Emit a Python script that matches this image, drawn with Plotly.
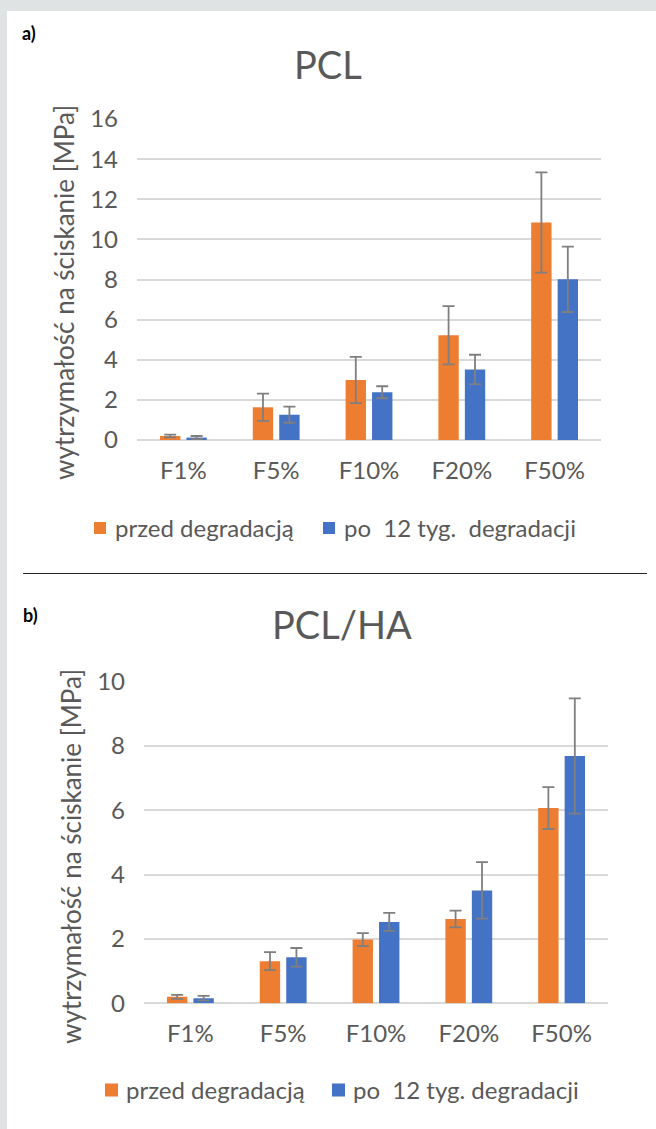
import plotly.graph_objects as go

W, H = 656, 1129

categories = ["F1%", "F5%", "F10%", "F20%", "F50%"]
series_names_a = ["przed degradacją", "po\u00a0 12 tyg.\u00a0 degradacji"]
series_names_b = ["przed degradacją", "po\u00a0 12 tyg. degradacji"]

# Chart a) PCL
pcl_before = [0.20, 1.63, 2.99, 5.22, 10.84]
pcl_before_err = [0.07, 0.68, 1.15, 1.45, 2.50]
pcl_after = [0.12, 1.26, 2.38, 3.52, 8.01]
pcl_after_err = [0.08, 0.40, 0.30, 0.73, 1.63]

# Chart b) PCL/HA
pclha_before = [0.20, 1.31, 1.98, 2.62, 6.07]
pclha_before_err = [0.06, 0.28, 0.20, 0.26, 0.65]
pclha_after = [0.16, 1.43, 2.53, 3.51, 7.69]
pclha_after_err = [0.07, 0.29, 0.28, 0.88, 1.79]

y_ticks_a = [0, 2, 4, 6, 8, 10, 12, 14, 16]
y_ticks_b = [0, 2, 4, 6, 8, 10]

ORANGE = "#ED7D31"
BLUE = "#4472C4"
ERR = "#7f7f7f"
TXT = "#595959"
GRID = "#d9d9d9"
FONT = "Lato"
TICK_SIZE = 24
LEG_SIZE = 24


def px(x):
    return x / W


def py(y):
    return 1 - y / H


def err(arr):
    return dict(type="data", array=arr, color=ERR, thickness=1.8, width=6)


fig = go.Figure()
fig.add_trace(go.Bar(x=categories, y=pcl_before, error_y=err(pcl_before_err),
                     marker_color=ORANGE, name=series_names_a[0],
                     xaxis="x", yaxis="y"))
fig.add_trace(go.Bar(x=categories, y=pcl_after, error_y=err(pcl_after_err),
                     marker_color=BLUE, name=series_names_a[1],
                     xaxis="x", yaxis="y"))
fig.add_trace(go.Bar(x=categories, y=pclha_before, error_y=err(pclha_before_err),
                     marker_color=ORANGE, name=series_names_b[0],
                     xaxis="x2", yaxis="y2"))
fig.add_trace(go.Bar(x=categories, y=pclha_after, error_y=err(pclha_after_err),
                     marker_color=BLUE, name=series_names_b[1],
                     xaxis="x2", yaxis="y2"))

xcommon = dict(showgrid=False, zeroline=False, showline=False, ticks="",
               tickfont=dict(family=FONT, size=TICK_SIZE, color=TXT), ticklabelstandoff=14,
               fixedrange=True, automargin=False)
ycommon = dict(showgrid=True, gridcolor=GRID, gridwidth=1.5, zeroline=True,
               zerolinecolor=GRID, zerolinewidth=1.5, showline=False, ticks="",
               tickfont=dict(family=FONT, size=TICK_SIZE, color=TXT), ticklabelstandoff=18,
               fixedrange=True, automargin=False)

# manual legends (square + text)
legend_items = [
    # (square x0, square y-center, text x, text, colour, size)
    (94, 528, 113, series_names_a[0], ORANGE, 12),
    (323, 528, 342, series_names_a[1], BLUE, 12),
    (105, 1090, 124, series_names_b[0], ORANGE, 13),
    (332, 1090, 351, series_names_b[1], BLUE, 13),
]

shapes = [
    dict(type="rect", xref="paper", yref="paper", x0=px(7), x1=1, y0=0, y1=py(11),
         fillcolor="white", line=dict(width=0), layer="below"),
    dict(type="line", xref="paper", yref="paper", x0=px(23), x1=px(647),
         y0=py(573.5), y1=py(573.5), line=dict(color="#262626", width=1)),
]
annotations = [
    dict(text="PCL", x=px(328), y=py(64), xref="paper", yref="paper",
         showarrow=False, font=dict(family=FONT, size=38, color=TXT),
         xanchor="center", yanchor="middle"),
    dict(text="PCL/HA", x=px(342), y=py(624), xref="paper", yref="paper",
         showarrow=False, font=dict(family=FONT, size=38, color=TXT),
         xanchor="center", yanchor="middle"),
    dict(text="<b>a)</b>", x=px(20), y=py(33), xref="paper", yref="paper",
         showarrow=False, font=dict(family=FONT, size=18, color="black"),
         xanchor="left", yanchor="middle"),
    dict(text="<b>b)</b>", x=px(21), y=py(615), xref="paper", yref="paper",
         showarrow=False, font=dict(family=FONT, size=18, color="black"),
         xanchor="left", yanchor="middle"),
    dict(text="wytrzymałość na ściskanie [MPa]", x=px(64), y=py(293),
         xref="paper", yref="paper", showarrow=False, textangle=-90,
         font=dict(family=FONT, size=26, color=TXT),
         xanchor="center", yanchor="middle"),
    dict(text="wytrzymałość na ściskanie [MPa]", x=px(71), y=py(857),
         xref="paper", yref="paper", showarrow=False, textangle=-90,
         font=dict(family=FONT, size=26, color=TXT),
         xanchor="center", yanchor="middle"),
]
for sx, sy, tx, label, col, sz in legend_items:
    shapes.append(dict(type="rect", xref="paper", yref="paper",
                       x0=px(sx), x1=px(sx + sz), y0=py(sy - sz / 2), y1=py(sy + sz / 2),
                       fillcolor=col, line=dict(width=0)))
    annotations.append(dict(text=label, x=px(tx), y=py(sy - 1), xref="paper", yref="paper",
                            showarrow=False, font=dict(family=FONT, size=LEG_SIZE, color=TXT),
                            xanchor="left", yanchor="middle"))

fig.update_layout(
    template="none",
    width=W, height=H,
    margin=dict(l=0, r=0, t=0, b=0, pad=0, autoexpand=False),
    paper_bgcolor="#dfe3e3",
    plot_bgcolor="rgba(0,0,0,0)",
    barmode="group",
    bargap=0.43,
    bargroupgap=0.23,
    showlegend=False,
    font=dict(family=FONT, color=TXT),
    xaxis=dict(domain=[px(137), px(601)], anchor="y", **xcommon),
    yaxis=dict(domain=[py(440), py(119)], anchor="x", range=[0, 16],
               tickvals=y_ticks_a, **ycommon),
    xaxis2=dict(domain=[px(144), px(608)], anchor="y2", **xcommon),
    yaxis2=dict(domain=[py(1003.3), py(681.7)], anchor="x2", range=[0, 10],
                tickvals=y_ticks_b, **ycommon),
    shapes=shapes,
    annotations=annotations,
)

post = (
    "document.documentElement.style.cssText='margin:0;padding:0;overflow:hidden;height:1129px;';"
    "document.body.style.cssText='margin:0;padding:0;overflow:hidden;height:1129px;';"
    "var d=document.getElementById('{plot_id}');"
    "d.style.position='fixed';d.style.top='0px';d.style.left='0px';"
)
fig.write_html("out.html", config={"displayModeBar": False}, post_script=post)
